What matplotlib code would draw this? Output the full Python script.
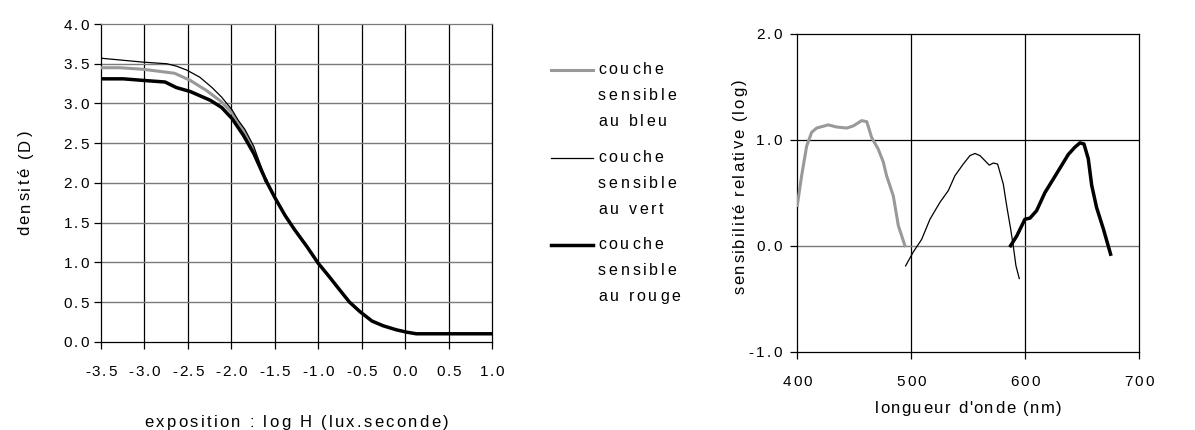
import numpy as np
import matplotlib
matplotlib.use('Agg')
import matplotlib.pyplot as plt
from matplotlib.font_manager import FontProperties, findfont
from matplotlib.ft2font import FT2Font
from matplotlib.transforms import offset_copy

FONT = 'Liberation Sans'
_ft = FT2Font(findfont(FontProperties(family=FONT)))

# courbes caractéristiques : tronçon commun à partir de -1.6
tail_logH = [-1.60, -1.50, -1.38, -1.27, -1.13, -1.00, -0.88, -0.75, -0.64,
             -0.52, -0.38, -0.25, -0.10, 0.02, 0.13, 1.0]
tail_D = [2.03, 1.82, 1.59, 1.41, 1.20, 0.99, 0.83, 0.65, 0.50,
          0.38, 0.26, 0.20, 0.15, 0.12, 0.10, 0.10]

bleu_logH = [-3.5, -3.28, -3.01, -2.65, -2.47, -2.28, -2.11, -1.99, -1.86, -1.74]
bleu_D = [3.45, 3.45, 3.43, 3.38, 3.29, 3.16, 3.02, 2.88, 2.67, 2.41]

vert_logH = [-3.5, -3.01, -2.74, -2.63, -2.51, -2.36, -2.22, -2.11, -1.99, -1.92, -1.84, -1.74]
vert_D = [3.57, 3.52, 3.50, 3.47, 3.42, 3.33, 3.20, 3.08, 2.92, 2.79, 2.67, 2.46]

rouge_logH = [-3.5, -3.24, -3.01, -2.76, -2.63, -2.47, -2.24, -2.11, -1.99, -1.86, -1.74]
rouge_D = [3.31, 3.31, 3.29, 3.27, 3.20, 3.15, 3.04, 2.95, 2.81, 2.60, 2.37]

# sensibilités spectrales
bleu_nm = [400, 403.8, 408.2, 412.6, 417, 427.2, 434.5, 443.3, 449.2, 456.5, 461,
           465.3, 471.1, 475.5, 478.4, 484.3, 488.7, 494.5]
bleu_s = [0.38, 0.66, 0.94, 1.07, 1.11, 1.14, 1.12, 1.11, 1.13, 1.18, 1.17,
          1.02, 0.91, 0.79, 0.66, 0.47, 0.19, 0.0]

vert_nm = [495.1, 501.8, 509.2, 516.5, 525.3, 532.6, 538.4, 545.7, 551.6, 556, 560.4,
           568.6, 572.1, 575.9, 580.9, 583.8, 587.3, 589.6, 592, 594.9]
vert_s = [-0.19, -0.06, 0.06, 0.25, 0.41, 0.52, 0.66, 0.77, 0.85, 0.87, 0.85,
          0.76, 0.78, 0.77, 0.58, 0.38, 0.16, 0.0, -0.19, -0.31]

rouge_nm = [587.3, 592.6, 599.9, 604.3, 610.1, 617.4, 627.7, 637.9, 643.8, 648.2,
            651.7, 655.5, 658.5, 662.8, 668.7, 675.1]
rouge_s = [0.0, 0.09, 0.25, 0.26, 0.33, 0.50, 0.68, 0.86, 0.93, 0.97,
           0.96, 0.82, 0.57, 0.36, 0.16, -0.08]

xticks_H = [-3.5, -3.0, -2.5, -2.0, -1.5, -1.0, -0.5, 0.0, 0.5, 1.0]
yticks_D = [0.0, 0.5, 1.0, 1.5, 2.0, 2.5, 3.0, 3.5, 4.0]
xticks_nm = [400, 500, 600, 700]
yticks_s = [-1.0, 0.0, 1.0, 2.0]

legend_labels = [['couche', 'sensible', 'au bleu'],
                 ['couche', 'sensible', 'au vert'],
                 ['couche', 'sensible', 'au rouge']]

GRAY = '#999999'
GRID_GRAY = '#7a7a7a'
TICK_SIZE = 11
LABEL_SIZE = 12


def advances(s, size):
    _ft.set_size(size, 72)
    return [_ft.load_char(ord(c)).linearHoriAdvance / 65536 for c in s]


def spaced(fig, x, y, s, transform, size=LABEL_SIZE, track=1.6, ha='center', va='center',
           rotation=0, dx=0, dy=0):
    # texte avec interlettrage, caractère par caractère
    adv = advances(s, size)
    total = sum(adv) + track * (len(s) - 1)
    shift = {'left': 0, 'center': total / 2, 'right': total}[ha]
    base = {'baseline': 0, 'center': 0.36 * size, 'top': 0.72 * size}[va]
    r = np.radians(rotation)
    u = np.array([np.cos(r), np.sin(r)])
    n = np.array([-np.sin(r), np.cos(r)])
    pos = -shift
    for c, a in zip(s, adv):
        if c != ' ':
            off = pos * u - base * n + np.array([dx, dy])
            tr = offset_copy(transform, fig=fig, x=off[0], y=off[1], units='points')
            fig.text(x, y, c, transform=tr, fontsize=size, family=FONT, ha='left',
                     va='baseline', rotation=rotation, rotation_mode='anchor',
                     color='black')
        pos += a + track


fig = plt.figure(figsize=(11.95, 4.3), dpi=100)

# --- courbes caractéristiques ---
ax1 = fig.add_axes([0.0843, 0.2053, 0.3274, 0.7388])
ax1.plot(tail_logH, tail_D, color='black', lw=2.5, solid_joinstyle='round', zorder=4)
ax1.plot(bleu_logH + tail_logH[:1], bleu_D + tail_D[:1], color=GRAY, lw=2.2, zorder=3)
ax1.plot(vert_logH + tail_logH[:1], vert_D + tail_D[:1], color='black', lw=0.9, zorder=3)
ax1.plot(rouge_logH + tail_logH[:1], rouge_D + tail_D[:1], color='black', lw=2.5, zorder=4)
ax1.set_xlim(-3.5, 1.0)
ax1.set_ylim(0, 4.0)
ax1.set_xticks(xticks_H)
ax1.set_yticks(yticks_D)
for v in xticks_H[1:-1]:
    ax1.axvline(v, color='black', lw=0.9, zorder=1)
for v in yticks_D[1:-1]:
    ax1.axhline(v, color=GRID_GRAY, lw=1.0, zorder=1)
ax1.spines['top'].set_color(GRID_GRAY)
ax1.spines['right'].set_color('black')
for sp in ax1.spines.values():
    sp.set_linewidth(0.9)
ax1.tick_params(direction='out', length=5, width=0.9, labelleft=False, labelbottom=False)
for v in xticks_H:
    spaced(fig, v, 0, f'{v:.1f}', ax1.get_xaxis_transform(), size=TICK_SIZE,
           track=1.2, dy=-21)
for v in yticks_D:
    spaced(fig, 0, v, f'{v:.1f}', ax1.get_yaxis_transform(), size=TICK_SIZE,
           track=1.6, ha='right', dx=-8.4)
spaced(fig, 0.5, 0, 'exposition : log H (lux.seconde)', ax1.transAxes, track=1.65, dy=-57)
spaced(fig, 0, 0.5, 'densité (D)', ax1.transAxes, rotation=90, track=1.65, dx=-55.5)

# --- légende ---
leg_styles = [(GRAY, 2.2), ('black', 0.9), ('black', 2.5)]
group_y = [68, 156, 243]
for (col, lw), gy, lines in zip(leg_styles, group_y, legend_labels):
    yf = 1 - (gy + 2) / 430
    fig.add_artist(plt.Line2D([551 / 1195, 593 / 1195], [yf, yf], color=col, lw=lw))
    for k, txt in enumerate(lines):
        spaced(fig, 598 / 1195, 1 - (gy + 26 * k) / 430, txt, fig.transFigure,
               size=11.5, ha='left', track=2.0)

# --- sensibilité spectrale ---
ax2 = fig.add_axes([0.6672, 0.1821, 0.2859, 0.7395])
ax2.plot(bleu_nm, bleu_s, color=GRAY, lw=2.2, zorder=3)
ax2.plot(vert_nm, vert_s, color='black', lw=0.9, zorder=3)
ax2.plot(rouge_nm, rouge_s, color='black', lw=2.5, zorder=4)
ax2.set_xlim(400, 700)
ax2.set_ylim(-1.0, 2.0)
ax2.set_xticks(xticks_nm)
ax2.set_yticks(yticks_s)
for v in xticks_nm[1:-1]:
    ax2.axvline(v, color='black', lw=0.9, zorder=1)
ax2.axhline(1.0, color='black', lw=0.9, zorder=1)
ax2.axhline(0.0, color=GRID_GRAY, lw=1.0, zorder=1)
for sp in ax2.spines.values():
    sp.set_linewidth(0.9)
ax2.tick_params(direction='out', length=5, width=0.9, labelleft=False, labelbottom=False)
for v in xticks_nm:
    spaced(fig, v, 0, f'{v}', ax2.get_xaxis_transform(), size=TICK_SIZE,
           track=1.6, dy=-20.4)
for v in yticks_s:
    spaced(fig, 0, v, f'{v:.1f}', ax2.get_yaxis_transform(), size=TICK_SIZE,
           track=1.6, ha='right', dx=-11.2)
spaced(fig, 0.5, 0, "longueur d'onde (nm)", ax2.transAxes, track=1.1, dy=-39.5)
spaced(fig, 0, 0.5, 'sensibilité relative (log)', ax2.transAxes, rotation=90,
       track=1.3, dx=-42.5, dy=4)

fig.savefig('out.png', dpi=100)
